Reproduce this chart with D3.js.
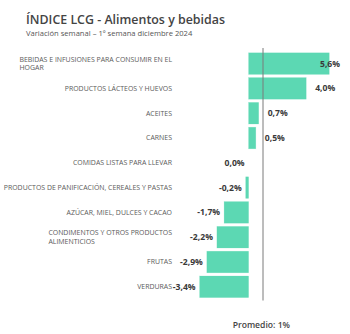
<!DOCTYPE html>
<html>
<head>
<meta charset="utf-8">
<script src="https://cdn.jsdelivr.net/npm/d3@7"></script>
<style>
  html, body { margin: 0; padding: 0; background: #ffffff; }
  svg { display: block; }
</style>
</head>
<body>
<svg id="chart" width="350" height="334"></svg>
<script>
// Weekly variation by food & beverage group (first week of December 2024)
const categories = [
  "BEBIDAS E INFUSIONES PARA CONSUMIR EN EL|HOGAR",
  "PRODUCTOS LÁCTEOS Y HUEVOS",
  "ACEITES",
  "CARNES",
  "COMIDAS LISTAS PARA LLEVAR",
  "PRODUCTOS DE PANIFICACIÓN, CEREALES Y PASTAS",
  "AZÚCAR, MIEL, DULCES Y CACAO",
  "CONDIMENTOS Y OTROS PRODUCTOS|ALIMENTICIOS",
  "FRUTAS",
  "VERDURAS"
];
const values = [5.6, 4.0, 0.7, 0.5, 0.0, -0.2, -1.7, -2.2, -2.9, -3.4];
const average = 1;
const titleText = "ÍNDICE LCG - Alimentos y bebidas";
const subtitleText = "Variación semanal – 1º semana diciembre 2024";
const averageLabel = "Promedio: 1%";

const fmt = v => v.toFixed(1).replace(".", ",") + "%";

const svg = d3.select("#chart");
const font = "'Open Sans', 'Noto Sans', sans-serif";

const x = d3.scaleLinear().domain([-4, 6]).range([191, 335]);
const y = d3.scaleBand()
  .domain(categories)
  .range([51.2, 299.2])
  .paddingInner(0.13)
  .paddingOuter(0.065);

// Title block
svg.append("text")
  .attr("x", 26).attr("y", 24)
  .attr("font-family", font).attr("font-size", 13.2).attr("font-weight", 600)
  .attr("fill", "#444")
  .attr("textLength", 199).attr("lengthAdjust", "spacingAndGlyphs")
  .text(titleText);
svg.append("text")
  .attr("x", 26).attr("y", 36)
  .attr("font-family", font).attr("font-size", 7.6)
  .attr("fill", "#555").text(subtitleText);

const rows = categories.map((c, i) => ({ cat: c, value: values[i] }));

// Bars
svg.append("g").selectAll("rect").data(rows).join("rect")
  .attr("x", d => Math.min(x(0), x(d.value)))
  .attr("y", d => y(d.cat))
  .attr("width", d => Math.abs(x(d.value) - x(0)))
  .attr("height", y.bandwidth())
  .attr("fill", "#5cd8b3")
  .attr("stroke", "#5cd8b3").attr("stroke-opacity", 0.35).attr("stroke-width", 0.6);

// Average reference line
svg.append("line")
  .attr("x1", x(average)).attr("x2", x(average))
  .attr("y1", 48).attr("y2", 300.5)
  .attr("stroke", "#7a7a7a").attr("stroke-width", 1);

// Category labels (multi-line blocks are left-aligned, block right-aligned)
const labelRight = 172;
const lineH = 8.7;
const catG = svg.append("g");
rows.forEach(d => {
  const lines = d.cat.split("|");
  const cy = y(d.cat) + y.bandwidth() / 2;
  const t = catG.append("text")
    .attr("font-family", font).attr("font-size", 6.95)
    .attr("fill", "#5a5a5a");
  lines.forEach((ln, k) => {
    t.append("tspan")
      .attr("y", cy + (k - (lines.length - 1) / 2) * lineH)
      .attr("dy", "0.35em")
      .text(ln);
  });
  const widths = [];
  t.selectAll("tspan").each(function () { widths.push(this.getComputedTextLength()); });
  const maxW = d3.max(widths);
  if (lines.length > 1) {
    t.selectAll("tspan").attr("x", labelRight - maxW);
  } else {
    t.attr("text-anchor", "end");
    t.selectAll("tspan").attr("x", labelRight);
  }
});

// Value labels
svg.append("g").selectAll("text").data(rows).join("text")
  .attr("x", d => d.value > 0 ? Math.min(x(d.value) + 29, 340) : x(Math.min(d.value, 0)) - 4)
  .attr("y", d => y(d.cat) + y.bandwidth() / 2)
  .attr("dy", "0.35em")
  .attr("text-anchor", "end")
  .attr("font-family", font).attr("font-size", 8.6).attr("font-weight", 700)
  .attr("fill", "#3a3a3a")
  .text(d => fmt(d.value));

// Average caption
svg.append("text")
  .attr("x", 290).attr("y", 324.5).attr("dy", "0.35em")
  .attr("text-anchor", "end")
  .attr("font-family", font).attr("font-size", 8.6).attr("font-weight", 600)
  .attr("fill", "#444").text(averageLabel);
</script>
</body>
</html>
